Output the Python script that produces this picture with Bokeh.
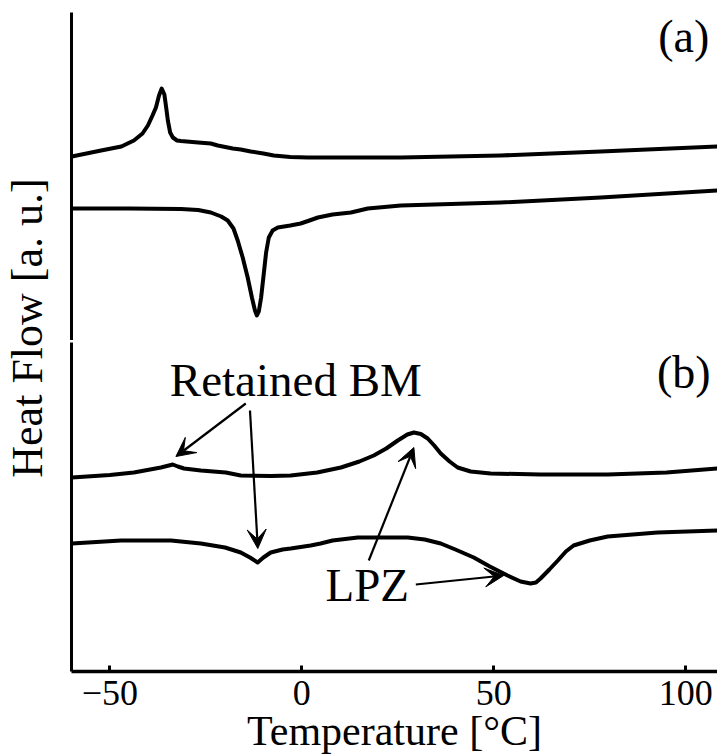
import numpy as np
from bokeh.plotting import figure
from bokeh.layouts import row, column
from bokeh.models import Range1d, FixedTicker, Label, Arrow, VeeHead
from bokeh.embed import file_html
from bokeh.resources import INLINE

# ---------------- data ----------------
# (a) cooling curve (exotherm)
a_cool_T = [-59.9, -52.3, -47, -43.75, -41.5, -40.1, -38.9, -38.0, -37.2, -36.5, -35.8, -35.3,
            -34.9, -34.3, -33.6, -32.5, -31.5, -27, -23.7, -21.9, -18, -15.9, -13.3, -10, -7.3,
            -3, 1.6, 25.8, 51.8, 77.9, 108.3]
a_cool_H = [18.4, 19.0, 19.4, 20.0, 20.7, 21.5, 22.5, 23.3, 24.5, 25.2, 24.6, 23.2,
            22.0, 20.8, 20.3, 20.0, 19.95, 19.8, 19.7, 19.5, 19.2, 19.1, 18.9, 18.7, 18.5,
            18.35, 18.3, 18.3, 18.5, 18.9, 19.4]
# (a) heating curve (endotherm)
a_heat_T = [-59.9, -45, -31.5, -27, -23.7, -21, -19.3, -17.8, -16.7, -15.4, -14.1, -13.0, -12.2,
            -11.7, -11.2, -10.6, -9.9, -9.3, -8.6, -7.6, -6.25, -3, -0.3, 2, 4.2, 8, 12.8, 17.2,
            25.8, 51.8, 77.9, 108.3]
a_heat_H = [13.2, 13.2, 13.15, 13.05, 12.8, 12.4, 12.0, 11.2, 10.0, 8.3, 6.3, 4.3, 3.0,
            2.5, 2.9, 4.3, 6.7, 8.8, 10.3, 11.0, 11.3, 11.5, 11.7, 12.0, 12.3, 12.6, 12.8, 13.2,
            13.5, 13.8, 14.3, 15.0]
# (b) cooling curve
b_cool_T = [-59.9, -50, -43.75, -36.7, -33.6, -32.3, -30.7, -26.3, -19.8, -15.9, -8, -2.9, 4,
            10.2, 15, 18.75, 22, 25.0, 27.5, 29.2, 31, 32.8, 34.5, 36.2, 38.5, 40.6, 44, 49.2,
            62.2, 79.7, 95, 108.3]
b_cool_H = [19.5, 19.75, 20.0, 20.5, 20.8, 20.6, 20.4, 20.2, 20.0, 19.7, 19.65, 19.7, 20.0,
            20.5, 21.1, 21.7, 22.4, 23.2, 23.8, 24.0, 23.85, 23.4, 22.7, 21.9, 21.1, 20.5, 20.1, 19.9,
            19.8, 19.8, 20.0, 20.4]
# (b) heating curve
b_heat_T = [-59.9, -47.1, -34.1, -26.3, -20, -15.9, -13.5, -11.5, -10, -8.1, -5, -2.9, 2.3, 4.9,
            8, 14.6, 27.6, 32, 36.2, 40, 44.8, 49, 53.6, 57, 59.6, 61, 62.2, 64.5, 66.7, 68.8,
            70.8, 75, 79.7, 92.7, 108.3]
b_heat_H = [12.9, 13.2, 13.2, 12.9, 12.5, 12.0, 11.5, 11.0, 11.5, 12.0, 12.3, 12.4, 12.7, 12.9,
            13.2, 13.5, 13.5, 13.3, 12.9, 12.3, 11.5, 10.6, 9.7, 9.1, 8.9, 9.0, 9.4, 10.3, 11.2, 12.1,
            12.7, 13.2, 13.6, 14.0, 14.2]

x_ticks = [-50, 0, 50, 100]
x_tick_labels = {-50: "\u221250", 0: "0", 50: "50", 100: "100"}

FONT = "Liberation Serif"
LW = 4

x_rng = Range1d(-60, 108.3)


def style(p):
    p.outline_line_color = None
    p.xgrid.visible = False
    p.ygrid.visible = False
    p.background_fill_color = "white"
    p.border_fill_color = "white"
    ax = p.yaxis[0]
    ax.ticker = FixedTicker(ticks=[])
    ax.axis_line_width = 3
    ax.axis_line_color = "black"
    ax.major_tick_in = 0
    ax.major_tick_out = 0
    ax.minor_tick_in = 0
    ax.minor_tick_out = 0
    ax.major_label_standoff = 0
    ax.major_label_text_font_size = "0px"


# ---------------- top panel (a) ----------------
pa = figure(frame_width=646, frame_height=328, x_range=x_rng, y_range=Range1d(0, 32.8),
            output_backend="svg", toolbar_location=None,
            min_border_top=12, min_border_bottom=0, min_border_left=3, min_border_right=0)
style(pa)
pa.xaxis.visible = False
pa.line(a_cool_T, a_cool_H, line_width=LW, color="black", line_join="round", line_cap="round")
pa.line(a_heat_T, a_heat_H, line_width=LW, color="black", line_join="round", line_cap="round")
pa.add_layout(Label(x=99.5, y=30.4, text="(a)", text_align="center", text_baseline="alphabetic",
                    text_font=FONT, text_font_size="46px", text_color="black"))

# ---------------- bottom panel (b) ----------------
pb = figure(frame_width=646, frame_height=329, x_range=x_rng, y_range=Range1d(0.1, 33.0),
            output_backend="svg", toolbar_location=None,
            min_border_top=2, min_border_bottom=0, min_border_left=3, min_border_right=0)
style(pb)
pb.line(b_cool_T, b_cool_H, line_width=LW, color="black", line_join="round", line_cap="round")
pb.line(b_heat_T, b_heat_H, line_width=LW, color="black", line_join="round", line_cap="round")

xa = pb.xaxis[0]
xa.ticker = FixedTicker(ticks=x_ticks)
xa.major_label_overrides = x_tick_labels
xa.axis_line_width = 3.5
xa.axis_line_color = "black"
xa.major_tick_in = 6
xa.major_tick_out = 0
xa.major_tick_line_width = 3
xa.minor_tick_in = 0
xa.minor_tick_out = 0
xa.major_label_text_font = FONT
xa.major_label_text_font_size = "36px"
xa.major_label_text_color = "black"
xa.major_label_standoff = 9
xa.axis_label = "Temperature [\u00b0C]"
xa.axis_label_text_font = FONT
xa.axis_label_text_font_style = "normal"
xa.axis_label_text_font_size = "42px"
xa.axis_label_text_color = "black"
xa.axis_label_standoff = 0

pb.add_layout(Label(x=99.5, y=30.0, text="(b)", text_align="center", text_baseline="alphabetic",
                    text_font=FONT, text_font_size="46px", text_color="black"))
pb.add_layout(Label(x=-1.56, y=29.3, text="Retained BM", text_align="center",
                    text_baseline="alphabetic", text_font=FONT, text_font_size="47px",
                    text_color="black"))
pb.add_layout(Label(x=17.06, y=8.8, text="LPZ", text_align="center",
                    text_baseline="alphabetic", text_font=FONT, text_font_size="47px",
                    text_color="black"))

arrows = [
    (-14.6, 26.9, -32.8, 21.6),
    (-13.5, 26.2, -11.46, 12.4),
    (17.45, 11.2, 29.2, 22.5),
    (29.7, 8.8, 52.6, 9.7),
]
for xs, ys, xe, ye in arrows:
    pb.add_layout(Arrow(end=VeeHead(size=19, fill_color="black", line_color="black", line_width=1),
                        x_start=xs, y_start=ys, x_end=xe, y_end=ye,
                        line_width=2.2, line_color="black"))

# ---------------- y label column ----------------
pl = figure(width=68, height=756, x_range=Range1d(0, 1), y_range=Range1d(0, 1),
            output_backend="svg", toolbar_location=None,
            min_border_top=0, min_border_bottom=101, min_border_left=0, min_border_right=0)
pl.xaxis.visible = False
pl.yaxis.visible = False
pl.xgrid.visible = False
pl.ygrid.visible = False
pl.outline_line_color = None
pl.add_layout(Label(x=27, y=0.5, x_units="screen", y_units="data", angle=90, angle_units="deg",
                    text="Heat Flow [a. u.]", text_align="center", text_baseline="alphabetic",
                    text_font=FONT, text_font_size="44px", text_color="black"))

layout = row(pl, column(pa, pb))

open("out.html", "w").write(file_html(layout, INLINE))
